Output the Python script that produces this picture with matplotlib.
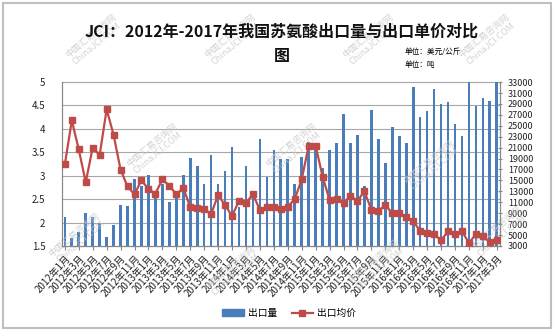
import matplotlib.pyplot as plt
from matplotlib.patches import Rectangle
from matplotlib.lines import Line2D
from matplotlib.transforms import blended_transform_factory

plt.rcParams['font.family'] = ['Noto Sans CJK SC', 'DejaVu Sans']

# 2012年1月 - 2017年3月，逐月
months = [f'{2012 + i // 12}年{i % 12 + 1}月' for i in range(63)]

# 出口量（吨）
export_volume = [
    8360, 4520, 5500, 8980, 8250, 7270, 4650, 6780, 10560, 10250, 15200, 13970,
    15990, 12000, 14340, 11100, 12500, 15950, 19040, 17550, 14370, 19700, 14370, 16770,
    21080, 10200, 17630, 12500, 22630, 15600, 20530, 19000, 19000, 14430, 19220, 22100,
    21000, 17270, 20560, 21780, 27150, 21780, 23300, 13970, 27880, 22520, 18120, 24770,
    23060, 21900, 32140, 26650, 27630, 31690, 28920, 29340, 25320, 23060, 33500, 28640,
    30130, 29520, 33500,
]

# 出口均价（美元/公斤）
export_price = [
    3.24, 4.18, 3.56, 2.86, 3.60, 3.44, 4.42, 3.87, 3.13, 2.77, 2.60, 2.91,
    2.71, 2.62, 2.92, 2.79, 2.60, 2.74, 2.33, 2.30, 2.29, 2.18, 2.59, 2.37,
    2.14, 2.46, 2.42, 2.60, 2.27, 2.33, 2.33, 2.29, 2.34, 2.50, 2.92, 3.64,
    3.64, 2.98, 2.48, 2.50, 2.42, 2.57, 2.46, 2.67, 2.27, 2.25, 2.37, 2.20,
    2.21, 2.11, 2.03, 1.82, 1.78, 1.75, 1.62, 1.81, 1.76, 1.82, 1.56, 1.75,
    1.71, 1.58, 1.62,
]

price_ticks = [1.5, 2, 2.5, 3, 3.5, 4, 4.5, 5]
volume_ticks = list(range(3000, 33001, 2000))

BAR_COLOR = '#4a7ebb'
LINE_COLOR = '#be4b48'
GRID_COLOR = '#a6a6a6'

fig = plt.figure(figsize=(5.54, 3.31), dpi=100)
fig.patch.set_facecolor('white')

# 水印
for cx, cy in [(0.17, 0.88), (0.42, 0.88), (0.67, 0.88), (0.88, 0.88),
               (0.28, 0.55), (0.53, 0.55), (0.78, 0.50),
               (0.14, 0.28), (0.42, 0.18), (0.68, 0.20), (0.90, 0.30)]:
    fig.text(cx, cy, '中国汇易咨询网\nChinaJCI.COM', rotation=40, ha='center', va='center',
             fontsize=6.5, color='#c8c8c8', alpha=0.8, linespacing=1.1, zorder=0)

ax_bar = fig.add_axes([0.112, 0.257, 0.791, 0.495])
ax_line = ax_bar.twinx()
ax_bar.patch.set_visible(False)
ax_line.set_zorder(ax_bar.get_zorder() + 1)
ax_line.patch.set_visible(False)

x = list(range(len(months)))
ax_bar.bar(x, export_volume, width=0.38, color=BAR_COLOR, zorder=2)
ax_bar.set_ylim(3000, 33000)
ax_bar.set_xlim(-0.4, 62.5)

ax_line.plot(x, export_price, color=LINE_COLOR, lw=1.6, marker='s', markersize=5,
             markerfacecolor=LINE_COLOR, markeredgecolor=LINE_COLOR, zorder=3)
ax_line.set_ylim(1.5, 5)

# 网格线按左轴刻度画在柱子后面
trans = blended_transform_factory(ax_bar.transAxes, ax_line.transData)
for v in price_ticks:
    ax_bar.plot([0, 1], [v, v], transform=trans, color=GRID_COLOR, lw=0.8,
                zorder=0, clip_on=False)

ax_bar.yaxis.tick_right()
ax_bar.set_yticks(volume_ticks)
ax_bar.set_yticklabels([str(v) for v in volume_ticks])
ax_bar.tick_params(axis='y', labelsize=6.5, direction='inout', length=3,
                   color='#888888', labelcolor='#222222', pad=4)

ax_line.yaxis.tick_left()
ax_line.set_yticks(price_ticks)
ax_line.set_yticklabels(['1.5', '2', '2.5', '3', '3.5', '4', '4.5', '5'])
ax_line.tick_params(axis='y', labelsize=7, length=0, labelcolor='#222222', pad=12)

ax_bar.set_xticks(x[::2])
ax_bar.set_xticklabels(months[::2], rotation=48, ha='right', rotation_mode='anchor',
                       fontsize=7, color='#222222')
ax_bar.tick_params(axis='x', length=3, color='#888888', pad=2)

for a in (ax_bar, ax_line):
    a.spines['top'].set_visible(False)
    for side in ('left', 'right', 'bottom'):
        a.spines[side].set_color('#888888')
        a.spines[side].set_linewidth(0.8)

fig.text(0.508, 1 - 32 / 331, 'JCI：2012年-2017年我国苏氨酸出口量与出口单价对比',
         ha='center', va='center', fontsize=11.5, fontweight='bold', color='#111111')
fig.text(0.508, 1 - 56 / 331, '图', ha='center', va='center', fontsize=11.5,
         fontweight='bold', color='#111111')
fig.text(405 / 554, 1 - 52 / 331, '单位：美元/公斤', ha='left', va='center', fontsize=5.5)
fig.text(405 / 554, 1 - 65 / 331, '单位：吨', ha='left', va='center', fontsize=5.5)

handles = [
    Rectangle((0, 0), 1, 1, color=BAR_COLOR),
    Line2D([], [], color=LINE_COLOR, lw=1.6, marker='s', markersize=5),
]
fig.legend(handles, ['出口量', '出口均价'], loc='center', bbox_to_anchor=(0.522, 1 - 313 / 331),
           ncol=2, frameon=False, fontsize=7, handlelength=2.2, handleheight=0.6,
           columnspacing=1.5, handletextpad=0.4)

fig.add_artist(Rectangle((0.006, 0.009), 0.988, 0.982, transform=fig.transFigure,
                         fill=False, edgecolor='#bfbfbf', linewidth=1.5))

fig.savefig('out.png', dpi=100)
